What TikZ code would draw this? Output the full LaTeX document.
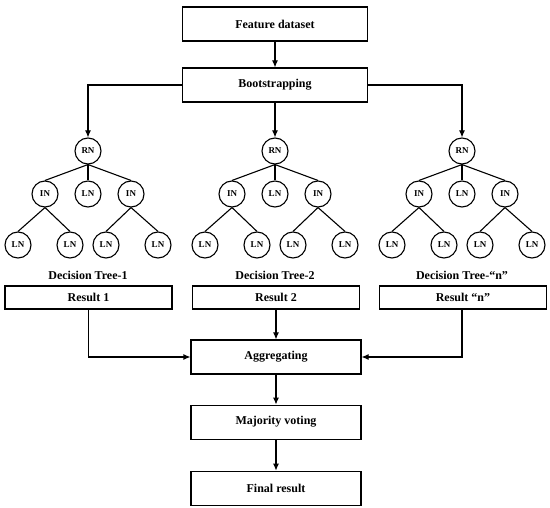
\documentclass[tikz,border=0pt]{standalone}
\usepackage{fontspec}
\setmainfont{Liberation Serif}
\usetikzlibrary{positioning,arrows.meta}
% one decision tree: #1 = name prefix, #2 = x of the root
\newcommand{\dtree}[2]{%
  \begin{scope}[shift={(#2,0)}]
    \node[nd] (#1r) at (0,151) {RN};
    \node[nd] (#1a) at (-43,194) {IN};
    \node[nd] (#1b) at (0,194) {LN};
    \node[nd] (#1c) at (43,194) {IN};
    \node[nd] (#1d) at (-70,245) {LN};
    \node[nd] (#1e) at (-18,245) {LN};
    \node[nd] (#1f) at (18,245) {LN};
    \node[nd] (#1g) at (70,245) {LN};
  \end{scope}
  \draw (#1r.south) -- (#1a.north);
  \draw (#1r.south) -- (#1b.north);
  \draw (#1r.south) -- (#1c.north);
  \draw (#1a.south) -- (#1d.north);
  \draw (#1a.south) -- (#1e.north);
  \draw (#1c.south) -- (#1f.north);
  \draw (#1c.south) -- (#1g.north);
}

\begin{document}
\begin{tikzpicture}[
  x=1pt, y=-1pt, line width=1.1pt,
  font=\bfseries\fontsize{12}{14}\selectfont,
  box/.style={draw, minimum width=185pt, minimum height=34pt, inner sep=2pt},
  res/.style={draw, minimum width=167pt, minimum height=23pt, inner sep=2pt},
  step2/.style={box, minimum width=170pt},
  nd/.style={draw, circle, minimum size=26pt, inner sep=0pt, font=\bfseries\fontsize{9}{10}\selectfont},
  arr/.style={-{Latex[length=7pt, width=6pt]}},
  lab/.style={inner sep=1pt}]
\useasboundingbox (0,0) rectangle (550,508);
% ---- input ----
\node[box] (feat) at (275,24) {Feature dataset};
\node[box] (boot) at (275,85) {Bootstrapping};
\draw[arr] (feat) -- (boot);
% ---- trees ----
\dtree{ta}{88}
\dtree{tb}{275}
\dtree{tc}{462}
\draw[arr] (boot.west) -| (tar.north);
\draw[arr] (boot.south) -- (tbr.north);
\draw[arr] (boot.east) -| (tcr.north);
\node[lab] (laba) at (88,275) {Decision Tree-1};
\node[lab] (labb) at (275,275) {Decision Tree-2};
\node[lab] (labc) at (462,275) {Decision Tree-“n”};
% ---- results ----
\node[res] (res1) at (88.5,297.5) {Result 1};
\node[res] (res2) at (276,297.5) {Result 2};
\node[res] (resn) at (463,297.5) {Result “n”};
% ---- combine ----
\node[step2] (agg) at (276,357) {Aggregating};
\node[step2, below=30pt of agg] (vote) {Majority voting};
\node[step2, below=31pt of vote] (final) {Final result};
\draw[arr] (res1.south) |- (agg.west);
\draw[arr] (res2.south) -- (agg.north);
\draw[arr] (resn.south -| tcr) |- (agg.east);
\draw[arr] (agg) -- (vote);
\draw[arr] (vote) -- (final);
\end{tikzpicture}
\end{document}
